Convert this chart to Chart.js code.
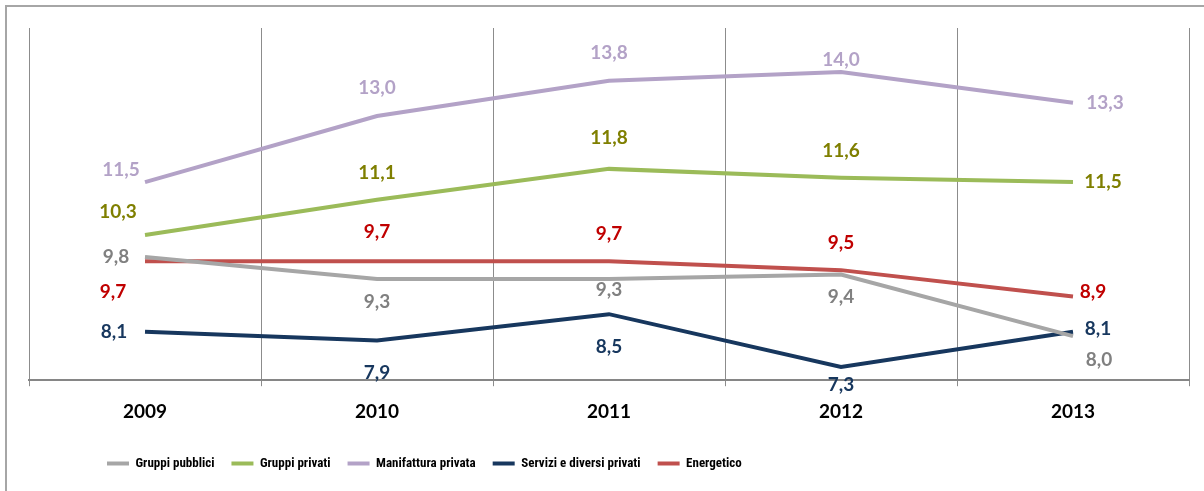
<!DOCTYPE html>
<html>
<head>
<meta charset="utf-8">
<script src="https://cdn.jsdelivr.net/npm/chart.js@4"></script>
<style>
    body { margin: 0; background: #fff; }
    #wrap { position: relative; width: 1204px; height: 491px; overflow: hidden; }
    #frame { position: absolute; left: 5px; top: 5px; width: 1400px; height: 700px; border: 2px solid #a6a6a6; }
    #chart { position: absolute; left: 0; top: 0; }
</style>
</head>
<body>
<div id="wrap">
    <div id="frame"></div>
    <canvas id="chart" width="1204" height="491"></canvas>
</div>
<script>
    const years = ["2009", "2010", "2011", "2012", "2013"];
    const gruppiPubblici = [9.8, 9.3, 9.3, 9.4, 8.0];
    const gruppiPrivati = [10.3, 11.1, 11.8, 11.6, 11.5];
    const manifatturaPrivata = [11.5, 13.0, 13.8, 14.0, 13.3];
    const serviziPrivati = [8.1, 7.9, 8.5, 7.3, 8.1];
    const energetico = [9.7, 9.7, 9.7, 9.5, 8.9];

    // label placement (dx, dy from the point), per series
    const labelOffsets = {
        "Gruppi pubblici": [[-29, 0], [0, 23], [0, 11], [0, 22], [26, 24]],
        "Gruppi privati": [[-27, -23], [0, -27], [0, -31], [0, -27], [30, 0]],
        "Manifattura privata": [[-24, -12], [0, -28], [0, -28], [0, -12], [32, 0]],
        "Servizi e diversi privati": [[-31, 0], [0, 32], [0, 33], [0, 18], [25, -3]],
        "Energetico": [[-32, 31], [0, -29], [0, -27], [0, -27], [20, -5]]
    };

    const FONT = "Lato, 'Open Sans', sans-serif";

    function series(label, data, lineColor, textColor) {
        return {
            label: label,
            data: data,
            borderColor: lineColor,
            backgroundColor: lineColor,
            borderWidth: 4,
            pointRadius: 0,
            tension: 0,
            labelColor: textColor
        };
    }

    const valueLabels = {
        id: "valueLabels",
        afterDatasetsDraw(chart) {
            const ctx = chart.ctx;
            ctx.save();
            ctx.font = "bold 19px " + FONT;
            ctx.textAlign = "center";
            ctx.textBaseline = "middle";
            chart.data.datasets.forEach((ds, di) => {
                const meta = chart.getDatasetMeta(di);
                const offs = labelOffsets[ds.label];
                meta.data.forEach((pt, i) => {
                    const o = offs[i];
                    ctx.fillStyle = ds.labelColor;
                    ctx.fillText(ds.data[i].toFixed(1).replace(".", ","), pt.x + o[0], pt.y + o[1]);
                });
            });
            ctx.restore();
        }
    };

    // the legend sits left of centre in the original
    const legendShift = {
        id: "legendShift",
        afterLayout(chart) {
            chart.legend.left += 61;
            chart.legend.right += 61;
        }
    };

    new Chart(document.getElementById("chart"), {
        type: "line",
        data: {
            labels: years,
            datasets: [
                series("Gruppi pubblici", gruppiPubblici, "#a6a6a6", "#808080"),
                series("Gruppi privati", gruppiPrivati, "#9bbb59", "#7f7f00"),
                series("Manifattura privata", manifatturaPrivata, "#b3a2c7", "#b3a2c7"),
                series("Servizi e diversi privati", serviziPrivati, "#17375e", "#17375e"),
                series("Energetico", energetico, "#c0504d", "#c00000")
            ]
        },
        options: {
            responsive: false,
            animation: false,
            layout: { padding: { left: 29, right: 15, top: 28, bottom: 11 } },
            scales: {
                x: {
                    offset: true,
                    grid: { offset: true, color: "#8c8c8c", lineWidth: 1, tickLength: 6 },
                    border: { color: "#868686", width: 2 },
                    ticks: { color: "#000", padding: 14, font: { family: FONT, size: 19, weight: "bold" } },
                    afterFit: scale => { scale.height += 3; }
                },
                y: { display: false, min: 7, max: 15 }
            },
            plugins: {
                tooltip: { enabled: false },
                legend: {
                    position: "bottom",
                    align: "start",
                    labels: {
                        boxWidth: 22,
                        boxHeight: 4,
                        padding: 17,
                        color: "#000",
                        font: { family: "'Liberation Sans Narrow', 'Roboto Condensed', " + FONT, size: 13, weight: "bold" },
                        generateLabels: chart => Chart.defaults.plugins.legend.labels.generateLabels(chart)
                            .map(l => ({ ...l, lineWidth: 0, fillStyle: l.strokeStyle }))
                    }
                }
            }
        },
        plugins: [valueLabels, legendShift]
    });
</script>
</body>
</html>
